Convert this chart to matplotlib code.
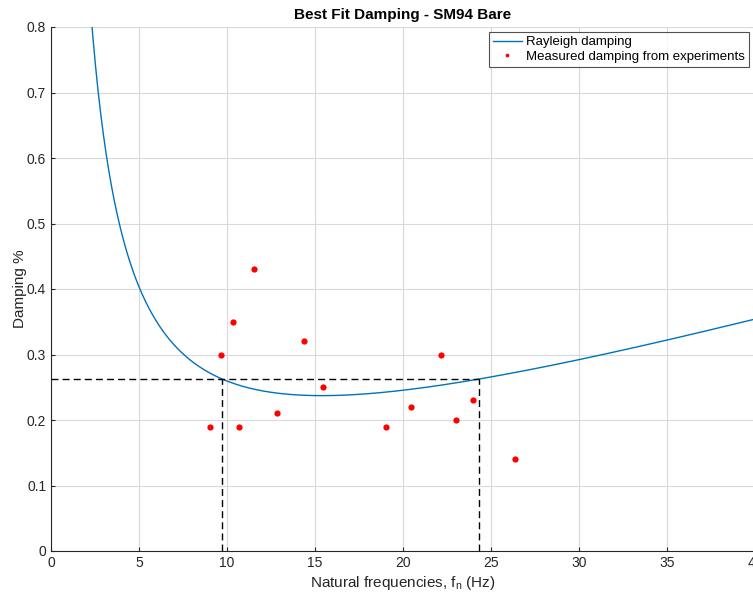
import numpy as np
import matplotlib
matplotlib.use("Agg")
import matplotlib.pyplot as plt

# measured damping from experiments
freq_meas = [9.06, 9.65, 10.33, 10.71, 11.56, 12.86, 14.38, 15.48,
             19.05, 20.46, 22.18, 23.0, 23.97, 26.37]
damp_meas = [0.19, 0.30, 0.35, 0.19, 0.43, 0.21, 0.32, 0.25,
             0.19, 0.22, 0.30, 0.20, 0.23, 0.14]

# Rayleigh fit anchors (the two frequencies where target damping is met)
f_anchor = [9.72, 24.33]
damp_target = 0.2626

xticks = [0, 5, 10, 15, 20, 25, 30, 35, 40]
yticks = [0, 0.1, 0.2, 0.3, 0.4, 0.5, 0.6, 0.7, 0.8]

plt.rcParams['font.family'] = ['Liberation Sans', 'DejaVu Sans']

# Rayleigh damping: zeta(f) = A/f + B*f, passing through both anchors
f1, f2 = f_anchor
B = damp_target / (f1 + f2)
A = B * f1 * f2
f = np.linspace(0.5, 41, 800)
zeta = A / f + B * f

fig = plt.figure(figsize=(7.53, 5.95), dpi=100)
ax = fig.add_axes([51 / 753, 44 / 595, 704 / 753, 524 / 595])

ax.plot(f, zeta, color='#0072BD', lw=1.0, label='Rayleigh damping')
ax.plot(freq_meas, damp_meas, 'o', color='red', ms=4.5, mec='none',
        label='Measured damping from experiments')

ax.plot([f1, f1], [0, damp_target], 'k--', lw=1.0, dashes=(5, 3))
ax.plot([f2, f2], [0, damp_target], 'k--', lw=1.0, dashes=(5, 3))
ax.plot([0, f2], [damp_target, damp_target], 'k--', lw=1.0, dashes=(5, 3))

ax.set_xlim(0, 40)
ax.set_ylim(0, 0.8)
ax.set_xticks(xticks)
ax.set_yticks(yticks)
ax.set_yticklabels(['0', '0.1', '0.2', '0.3', '0.4', '0.5', '0.6', '0.7', '0.8'])
ax.grid(True, color='#d9d9d9', lw=0.8)
ax.set_axisbelow(True)
ax.tick_params(direction='in', length=3, labelsize=10, colors='#262626')
for s in ['top', 'right']:
    ax.spines[s].set_visible(False)
for s in ['left', 'bottom']:
    ax.spines[s].set_color('#262626')
    ax.spines[s].set_linewidth(0.8)

ax.set_xlabel('Natural frequencies, $\\mathregular{f_n}$ (Hz)', fontsize=11, color='#262626', labelpad=3)
ax.set_ylabel('Damping %', fontsize=11, color='#262626', labelpad=0)
ax.set_title('Best Fit Damping - SM94 Bare', fontsize=11, fontweight='bold', pad=6)

leg = ax.legend(loc='upper right', fontsize=9.5, frameon=True, fancybox=False,
                edgecolor='#262626', handlelength=2.2, handletextpad=0.3,
                borderpad=0.3, labelspacing=0.15, borderaxespad=0.0,
                markerscale=0.6, bbox_to_anchor=(0.991, 0.99))
leg.get_frame().set_linewidth(0.8)

fig.savefig('out.png', dpi=100)
